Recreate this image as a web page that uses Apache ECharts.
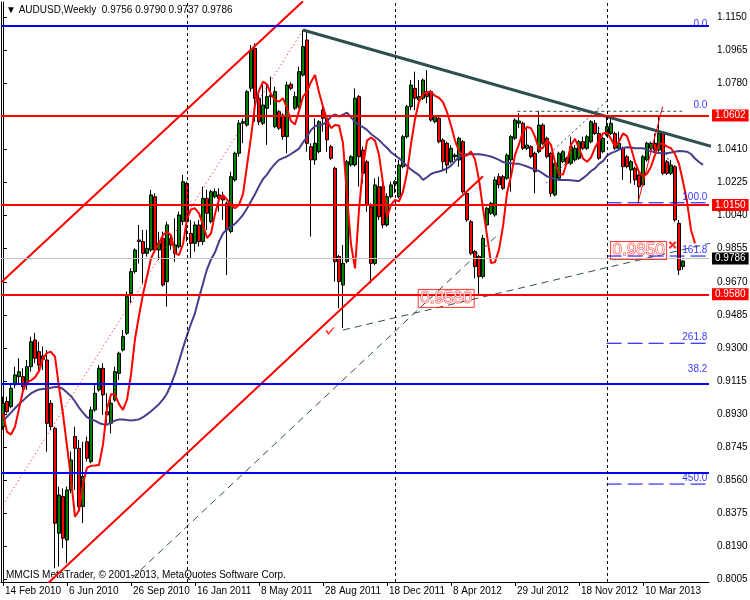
<!DOCTYPE html>
<html><head><meta charset="utf-8">
<script src="https://cdn.jsdelivr.net/npm/echarts@6.0.0/dist/echarts.min.js"></script>
<style>html,body{margin:0;padding:0;background:#fff}#c{width:750px;height:600px}</style>
</head><body><div id="c"></div>
<script>
const FONT = '"Liberation Sans", Arial, sans-serif';
const MONTHS = ['Jan','Feb','Mar','Apr','May','Jun','Jul','Aug','Sep','Oct','Nov','Dec'];
const firstWeek = Date.UTC(2010, 1, 14);
const weekCount = 177;
const dates = Array.from({length: weekCount}, (_, k) => {
  const d = new Date(firstWeek + k * 7 * 864e5);
  return d.getUTCDate() + ' ' + MONTHS[d.getUTCMonth()] + ' ' + d.getUTCFullYear();
});
const labelEvery = 16, lastLabelIdx = 160;

// weekly OHLC
const openP = [0.8859,0.9000,0.8971,0.9093,0.9139,0.9139,0.9093,0.9195,0.9344,0.9279,0.9255,0.9232,0.8990,0.8850,0.8263,0.8468,0.8225,0.8505,0.8804,0.8738,
0.8412,0.8775,0.8664,0.8953,0.9065,0.9186,0.8943,0.8878,0.9008,0.9158,0.9288,0.9382,0.9605,0.9727,0.9904,0.9895,0.9829,0.9848,1.0146,0.9848,
0.9913,0.9671,0.9913,0.9829,0.9866,1.0007,1.0221,0.9941,0.9885,0.9988,0.9895,1.0137,1.0007,1.0146,1.0156,1.0146,1.0109,0.9951,1.0240,1.0389,
1.0557,1.0547,1.0753,1.0976,1.0697,1.0557,1.0641,1.0715,1.0538,1.0622,1.0603,1.0482,1.0775,1.0641,1.0650,1.0827,1.1023,1.0426,1.0352,1.0398,
1.0631,1.0585,1.0426,1.0305,0.9811,0.9652,0.9783,1.0324,1.0324,1.0706,1.0407,1.0342,1.0090,0.9773,1.0202,1.0202,0.9988,1.0146,1.0217,1.0146,
1.0314,1.0482,1.0650,1.0752,1.0687,1.0697,1.0734,1.0734,1.0566,1.0585,1.0463,1.0445,1.0342,1.0370,1.0352,1.0454,1.0165,1.0006,0.9839,0.9811,
0.9699,0.9988,1.0053,1.0044,1.0258,1.0258,1.0249,1.0352,1.0473,1.0557,1.0557,1.0417,1.0426,1.0389,1.0398,1.0547,1.0473,1.0389,1.0156,1.0249,
1.0342,1.0361,1.0333,1.0352,1.0361,1.0454,1.0417,1.0454,1.0557,1.0500,1.0398,1.0491,1.0500,1.0500,1.0417,1.0417,1.0370,1.0296,1.0305,1.0268,
1.0212,1.0352,1.0417,1.0445,1.0407,1.0500,1.0342,1.0277,1.0314,0.9997,0.9756];
const highP = [0.9027,0.9027,0.9093,0.9195,0.9242,0.9186,0.9232,0.9363,0.9385,0.9335,0.9307,0.9288,0.9008,0.8859,0.8524,0.8514,0.8524,0.8720,0.8859,0.8785,
0.8775,0.8804,0.8971,0.9093,0.9204,0.9214,0.9046,0.9018,0.9195,0.9279,0.9400,0.9615,0.9745,0.9857,0.9988,0.9960,0.9960,1.0184,1.0165,0.9950,
0.9950,1.0006,0.9932,1.0025,1.0062,1.0268,1.0230,1.0016,1.0007,1.0016,1.0202,1.0184,1.0184,1.0193,1.0193,1.0174,1.0119,1.0286,1.0398,1.0575,
1.0585,1.0743,1.0995,1.1004,1.0743,1.0771,1.0771,1.0818,1.0762,1.0631,1.0613,1.0790,1.0786,1.0734,1.0874,1.1079,1.1070,1.0445,1.0585,1.0575,
1.0650,1.0594,1.0436,1.0314,0.9820,0.9876,1.0352,1.0379,1.0752,1.0715,1.0426,1.0352,1.0109,1.0249,1.0258,1.0221,1.0165,1.0230,1.0240,1.0352,
1.0491,1.0659,1.0799,1.0846,1.0799,1.0808,1.0855,1.0743,1.0603,1.0594,1.0473,1.0454,1.0435,1.0389,1.0482,1.0463,1.0174,1.0016,0.9848,0.9820,
0.9932,1.0090,1.0118,1.0258,1.0277,1.0268,1.0389,1.0491,1.0585,1.0613,1.0566,1.0529,1.0435,1.0398,1.0626,1.0557,1.0482,1.0398,1.0342,1.0398,
1.0407,1.0370,1.0482,1.0435,1.0463,1.0482,1.0491,1.0575,1.0575,1.0538,1.0482,1.0594,1.0585,1.0510,1.0510,1.0426,1.0380,1.0352,1.0314,1.0277,
1.0380,1.0454,1.0454,1.0500,1.0598,1.0510,1.0352,1.0352,1.0323,1.0016,0.9790];
const lowP = [0.8841,0.8934,0.8962,0.9074,0.9102,0.9027,0.9065,0.9167,0.9214,0.9167,0.9176,0.8719,0.8841,0.8067,0.8076,0.8179,0.8095,0.8487,0.8505,0.8393,
0.8319,0.8664,0.8654,0.8943,0.9055,0.8925,0.8878,0.8822,0.8999,0.9121,0.9279,0.9372,0.9550,0.9717,0.9773,0.9661,0.9811,0.9839,0.9839,0.9792,
0.9643,0.9531,0.9848,0.9782,0.9857,0.9988,0.9895,0.9801,0.9839,0.9867,0.9876,0.9960,0.9997,1.0137,1.0063,1.0016,0.9708,0.9941,1.0230,1.0370,
1.0445,1.0538,1.0734,1.0566,1.0547,1.0547,1.0436,1.0659,1.0529,1.0519,1.0464,1.0389,1.0743,1.0631,1.0641,1.0818,1.0398,0.9923,1.0324,1.0389,
1.0510,1.0398,1.0352,0.9671,0.9522,0.9411,0.9773,1.0314,1.0314,1.0202,1.0221,1.0062,0.9661,0.9764,1.0016,0.9969,0.9978,1.0137,1.0165,1.0137,
1.0305,1.0473,1.0631,1.0631,1.0678,1.0687,1.0669,1.0566,1.0557,1.0445,1.0296,1.0277,1.0333,1.0352,1.0314,1.0165,1.0006,0.9820,0.9689,0.9590,
0.9689,0.9978,1.0044,1.0034,1.0193,1.0184,1.0240,1.0174,1.0463,1.0529,1.0407,1.0407,1.0361,1.0165,1.0389,1.0435,1.0361,1.0147,1.0147,1.0240,
1.0333,1.0323,1.0323,1.0342,1.0352,1.0407,1.0407,1.0445,1.0491,1.0352,1.0389,1.0482,1.0491,1.0407,1.0407,1.0240,1.0305,1.0221,1.0212,1.0115,
1.0202,1.0342,1.0407,1.0398,1.0398,1.0268,1.0268,1.0268,1.0006,0.9708,0.9737];
const closeP = [0.8990,0.8943,0.9074,0.9149,0.9167,0.9083,0.9195,0.9335,0.9242,0.9204,0.9236,0.8878,0.8859,0.8319,0.8477,0.8235,0.8505,0.8673,0.8738,0.8412,
0.8580,0.8682,0.8953,0.9046,0.9186,0.9037,0.8925,0.8990,0.9167,0.9270,0.9363,0.9587,0.9727,0.9848,0.9895,0.9829,0.9857,1.0156,0.9848,0.9885,
0.9652,0.9988,0.9876,0.9876,1.0044,1.0230,1.0007,0.9885,0.9988,0.9895,1.0137,1.0053,1.0174,1.0174,1.0137,1.0128,0.9960,1.0258,1.0389,1.0557,
1.0566,1.0734,1.0967,1.0697,1.0566,1.0659,1.0706,1.0706,1.0734,1.0529,1.0482,1.0771,1.0753,1.0706,1.0846,1.0986,1.0445,1.0352,1.0445,1.0566,
1.0585,1.0464,1.0361,0.9783,0.9671,0.9773,1.0342,1.0370,1.0697,1.0370,1.0277,1.0100,0.9773,1.0212,1.0034,0.9988,1.0146,1.0212,1.0230,1.0324,
1.0482,1.0650,1.0771,1.0697,1.0706,1.0799,1.0706,1.0575,1.0594,1.0454,1.0342,1.0324,1.0417,1.0379,1.0473,1.0174,1.0016,0.9829,0.9755,0.9699,
0.9913,1.0081,1.0109,1.0240,1.0212,1.0193,1.0379,1.0482,1.0575,1.0570,1.0417,1.0435,1.0370,1.0286,1.0547,1.0445,1.0370,1.0165,1.0333,1.0389,
1.0398,1.0333,1.0426,1.0417,1.0454,1.0417,1.0482,1.0566,1.0500,1.0361,1.0473,1.0538,1.0557,1.0417,1.0445,1.0314,1.0314,1.0342,1.0240,1.0202,
1.0370,1.0445,1.0445,1.0407,1.0500,1.0277,1.0277,1.0323,1.0016,0.9736,0.9786];

// fast red average (shifted forward), slow slate-blue average
const redAvg = [0.8934,0.8830,0.8815,0.8859,0.8960,0.9060,0.9108,0.9118,0.9135,0.9170,0.9240,0.9272,0.9278,0.9251,0.9080,0.8930,0.8750,0.8570,0.8355,0.8390,
0.8540,0.8630,0.8640,0.8642,0.8645,0.8760,0.8960,0.9040,0.9040,0.8985,0.8953,0.9010,0.9150,0.9350,0.9480,0.9600,0.9700,0.9800,0.9848,0.9885,
0.9932,0.9950,0.9930,0.9830,0.9820,0.9880,1.0020,1.0075,1.0081,1.0053,0.9988,0.9915,0.9940,1.0050,1.0130,1.0156,1.0130,1.0100,1.0082,1.0100,
1.0160,1.0320,1.0480,1.0660,1.0740,1.0790,1.0775,1.0720,1.0688,1.0678,1.0697,1.0640,1.0570,1.0550,1.0625,1.0706,1.0734,1.0788,1.0827,1.0730,
1.0650,1.0575,1.0530,1.0547,1.0545,1.0445,1.0150,0.9880,0.9745,1.0072,1.0314,1.0460,1.0477,1.0460,1.0380,1.0221,1.0030,1.0100,1.0128,1.0120,
1.0175,1.0280,1.0440,1.0580,1.0680,1.0720,1.0732,1.0734,1.0710,1.0700,1.0675,1.0620,1.0545,1.0460,1.0400,1.0375,1.0376,1.0400,1.0355,1.0240,
1.0080,0.9930,0.9775,0.9780,0.9850,0.9980,1.0165,1.0260,1.0380,1.0440,1.0512,1.0536,1.0530,1.0482,1.0410,1.0420,1.0465,1.0435,1.0340,1.0270,
1.0270,1.0340,1.0435,1.0470,1.0418,1.0360,1.0342,1.0365,1.0420,1.0460,1.0500,1.0505,1.0470,1.0426,1.0455,1.0500,1.0485,1.0420,1.0340,1.0285,
1.0258,1.0275,1.0314,1.0380,1.0440,1.0445,1.0426,1.0417,1.0385,1.0330,1.0230,1.0120,0.9960,0.9885];
const slowAvg = [0.8887,0.8915,0.8938,0.8962,0.8985,0.9005,0.9027,0.9045,0.9058,0.9067,0.9070,0.9073,0.9077,0.9081,0.9082,0.9070,0.9050,0.9030,0.9000,0.8966,
0.8938,0.8912,0.8900,0.8893,0.8880,0.8873,0.8870,0.8882,0.8893,0.8900,0.8899,0.8896,0.8894,0.8896,0.8900,0.8912,0.8928,0.8946,0.8965,0.8985,
0.9012,0.9045,0.9095,0.9155,0.9225,0.9300,0.9370,0.9435,0.9495,0.9580,0.9660,0.9740,0.9795,0.9835,0.9895,0.9940,0.9965,0.9977,0.9995,1.0018,
1.0045,1.0080,1.0120,1.0160,1.0205,1.0245,1.0270,1.0303,1.0330,1.0352,1.0362,1.0372,1.0385,1.0400,1.0415,1.0450,1.0480,1.0520,1.0540,1.0547,
1.0552,1.0565,1.0595,1.0607,1.0595,1.0605,1.0616,1.0590,1.0565,1.0547,1.0535,1.0520,1.0497,1.0480,1.0463,1.0440,1.0420,1.0395,1.0378,1.0361,
1.0340,1.0318,1.0298,1.0282,1.0267,1.0240,1.0255,1.0273,1.0282,1.0287,1.0294,1.0305,1.0320,1.0345,1.0368,1.0378,1.0384,1.0385,1.0384,1.0383,
1.0381,1.0376,1.0371,1.0362,1.0352,1.0340,1.0334,1.0333,1.0330,1.0330,1.0323,1.0315,1.0306,1.0297,1.0290,1.0275,1.0260,1.0252,1.0245,1.0240,
1.0240,1.0240,1.0238,1.0236,1.0234,1.0250,1.0268,1.0290,1.0305,1.0330,1.0345,1.0375,1.0390,1.0398,1.0410,1.0419,1.0423,1.0421,1.0417,1.0417,
1.0417,1.0408,1.0400,1.0394,1.0390,1.0389,1.0389,1.0393,1.0398,1.0402,1.0401,1.0398,1.0385,1.0360,1.0340,1.0324];

const yTicks = [0.8005,0.8190,0.8375,0.8560,0.8745,0.8930,0.9115,0.9300,0.9485,0.9670,0.9855,1.0040,1.0225,1.0410,1.0595,1.0780,1.0965,1.1150];
const yearStarts = [46, 98, 151];
const redLevels = [1.0602, 1.0150, 0.9580];
const blueLevels = [1.1079, 0.9148, 0.8551];
const bidLevel = 0.9786;
const fibDashLevels = [1.0112, 0.9814, 0.9326, 0.8538];
const fibDashFrom = 150.9;
const fibLabels = [['0.0',1.1079],['0.0',1.0624],['100.0',1.0112],['161.8',0.9814],['261.8',0.9326],['38.2',0.9148],['450.0',0.8538]];

// trend objects: [x(week index), price]
const channelUpper = [[-0.5, 0.9666],[75, 1.1240]];
const channelLower = [[10, 0.7957],[120, 1.0260]];
const dottedRay = [[-0.5, 0.8403],[75, 1.1079]];
const slateTrend = [[75, 1.1079],[177, 1.0428]];
const steepDash = [[30, 0.7965],[124.1, 0.9941]];
const shallowDash = [[85, 0.9400],[177, 0.9887]];
const redThin = [[158.7, 1.0109],[164.9, 1.0650]];
const topDash = [[128.6, 1.0624],[169.8, 1.0624]];
const dotChannelLow = [[135.8, 1.0221],[149.1, 1.0529]];
const dotChannelHigh = [[135.8, 1.0370],[151.2, 1.0687]];
const dotDown = [[165.3, 1.0416],[168.3, 1.0221]];
const checkMark = [81.7, 0.9395];
const crossMark = [167.4, 0.9876];
const priceBoxes = [['0.9850', 158.9, 0.9845], ['0.9580', 110.8, 0.9577]];

const lastK = closeP.length - 1;
const titleText = '▼ AUDUSD,Weekly  ' + [openP[lastK], highP[lastK], lowP[lastK], closeP[lastK]].map(v => v.toFixed(4)).join(' ');

function seg(data, color, width, type) {
  return {type:'line', xAxisIndex:1, yAxisIndex:0, data, symbol:'none', silent:true,
    lineStyle:{color, width, type}, clip:true, animation:false, z:4};
}
const levelLabel = (bg) => ({show:true, position:'end', distance:3, backgroundColor:bg, color:'#fff',
  fontSize:10, fontFamily:FONT, padding:[1,3,0,3], lineHeight:11});

const markData = [];
redLevels.forEach(v => markData.push({yAxis:v, lineStyle:{color:'#ff0000', width:2, type:'solid'}, label:Object.assign(levelLabel('#ff0000'), {formatter:v.toFixed(4)})}));
blueLevels.forEach(v => markData.push({yAxis:v, lineStyle:{color:'#0000ff', width:2, type:'solid'}, label:{show:false}}));
markData.push({yAxis:bidLevel, lineStyle:{color:'#c0c0c0', width:1, type:'solid'}, label:Object.assign(levelLabel('#000000'), {formatter:bidLevel.toFixed(4)})});
yearStarts.forEach(k => markData.push({xAxis:k, lineStyle:{color:'#000', width:1, type:[3,3]}, label:{show:false}}));

const series = [
  {type:'candlestick', xAxisIndex:0, yAxisIndex:0, barWidth:3, animation:false,
   data: openP.map((o,k) => [o, closeP[k], lowP[k], highP[k]]),
   itemStyle:{color:'#008000', color0:'#ff0000', borderColor:'#000', borderColor0:'#000', borderWidth:1},
   markLine:{symbol:['none','none'], silent:true, animation:false, data:markData}, z:2},
  {type:'line', xAxisIndex:1, yAxisIndex:0, data: slowAvg.map((v,k)=>[k,v]), symbol:'none', lineStyle:{color:'#483d8b', width:2}, animation:false, z:3},
  {type:'line', xAxisIndex:1, yAxisIndex:0, data: redAvg.map((v,k)=>[k,v]), symbol:'none', lineStyle:{color:'#ff0000', width:2}, animation:false, z:3},
  seg(channelUpper, '#ff0000', 2, 'solid'),
  seg(channelLower, '#ff0000', 2, 'solid'),
  seg(dottedRay, '#ff0000', 1, [1,3]),
  seg(slateTrend, '#2f4f4f', 3, 'solid'),
  seg(steepDash, '#2f4f4f', 1, [7,5]),
  seg(shallowDash, '#2f4f4f', 1, [7,5]),
  seg(redThin, '#ff0000', 1, 'solid'),
  seg(topDash, '#2f4f4f', 1, [3,3]),
  seg(dotChannelLow, '#2f4f4f', 1, [2,3]),
  seg(dotChannelHigh, '#2f4f4f', 1, [2,3]),
  seg(dotDown, '#2f4f4f', 1, [2,3])
];
fibDashLevels.forEach(v => series.push(seg([[fibDashFrom, v],[176.5, v]], '#0000ff', 1, [15,6])));
series.push({type:'scatter', xAxisIndex:1, yAxisIndex:0, silent:true, animation:false, symbolSize:1,
  itemStyle:{color:'transparent'}, data: fibLabels.map(f => [176.2, f[1], f[0]]),
  label:{show:true, position:'left', distance:0, offset:[0,-6], formatter:p => p.value[2], color:'#0000ff', fontSize:10, fontFamily:FONT}, z:6});
series.push({type:'scatter', xAxisIndex:1, yAxisIndex:0, silent:true, animation:false, symbolSize:1,
  itemStyle:{color:'transparent'}, data: priceBoxes.map(b => [b[1], b[2], b[0]]),
  label:{show:true, position:'inside', formatter:p => p.value[2], color:'#ffffff', textBorderColor:'#ff0000', textBorderWidth:1,
    fontSize:17, fontFamily:FONT, borderColor:'#ff0000', borderWidth:1, padding:[1,2,0,2], lineHeight:17}, z:6});
series.push({type:'scatter', xAxisIndex:1, yAxisIndex:0, silent:true, animation:false, data:[checkMark],
  symbol:'path://M0,5 L2,4 L4,7 L10,0 L11,1 L4,10 Z', symbolSize:[9,8], itemStyle:{color:'#ff0000'}, z:6});
series.push({type:'scatter', xAxisIndex:1, yAxisIndex:0, silent:true, animation:false, data:[crossMark],
  symbol:'path://M0,2 L2,0 L5,3 L8,0 L10,2 L7,5 L10,8 L8,10 L5,7 L2,10 L0,8 L3,5 Z', symbolSize:8, itemStyle:{color:'#ff0000'}, z:6});

const showLabelAt = idx => idx % labelEvery === 0 && idx <= lastLabelIdx;
const chart = echarts.init(document.getElementById('c'), null, {renderer:'canvas'});
chart.setOption({
  backgroundColor:'#ffffff',
  animation:false,
  title:{text:titleText, left:6, top:5, padding:0, textStyle:{fontSize:10, fontWeight:'normal', color:'#000', fontFamily:FONT}},
  graphic:[{type:'text', left:6, top:570, silent:true, style:{text:'MMCIS MetaTrader, © 2001-2013, MetaQuotes Software Corp.', fill:'#000', fontSize:10, fontFamily:FONT}}],
  grid:{left:1, right:41, top:2, bottom:18, containLabel:false, outerBoundsMode:'none'},
  xAxis:[
    {type:'category', data:dates, boundaryGap:true,
     axisLine:{show:true, lineStyle:{color:'#000', width:1}},
     axisTick:{show:true, alignWithLabel:true, interval:showLabelAt, length:4, lineStyle:{color:'#000'}},
     axisLabel:{interval:showLabelAt, align:'left', margin:4, padding:[0,0,0,2], color:'#000', fontSize:10, fontFamily:FONT},
     splitLine:{show:false}},
    {type:'value', min:-0.5, max:176.5, show:false}
  ],
  yAxis:[
    {type:'value', position:'right', min:0.7990, max:1.12356, scale:true,
     axisLine:{show:true, lineStyle:{color:'#000', width:1}},
     axisTick:{show:true, length:4, customValues:yTicks, lineStyle:{color:'#000'}},
     axisLabel:{customValues:yTicks, formatter:v => v.toFixed(4), margin:8, color:'#000', fontSize:10, fontFamily:FONT},
     splitLine:{show:false}},
    {type:'value', position:'left', min:0.7990, max:1.12356, scale:true,
     axisLine:{show:true, lineStyle:{color:'#000', width:1}}, axisTick:{show:false}, axisLabel:{show:false}, splitLine:{show:false}}
  ],
  series
});
</script></body></html>
